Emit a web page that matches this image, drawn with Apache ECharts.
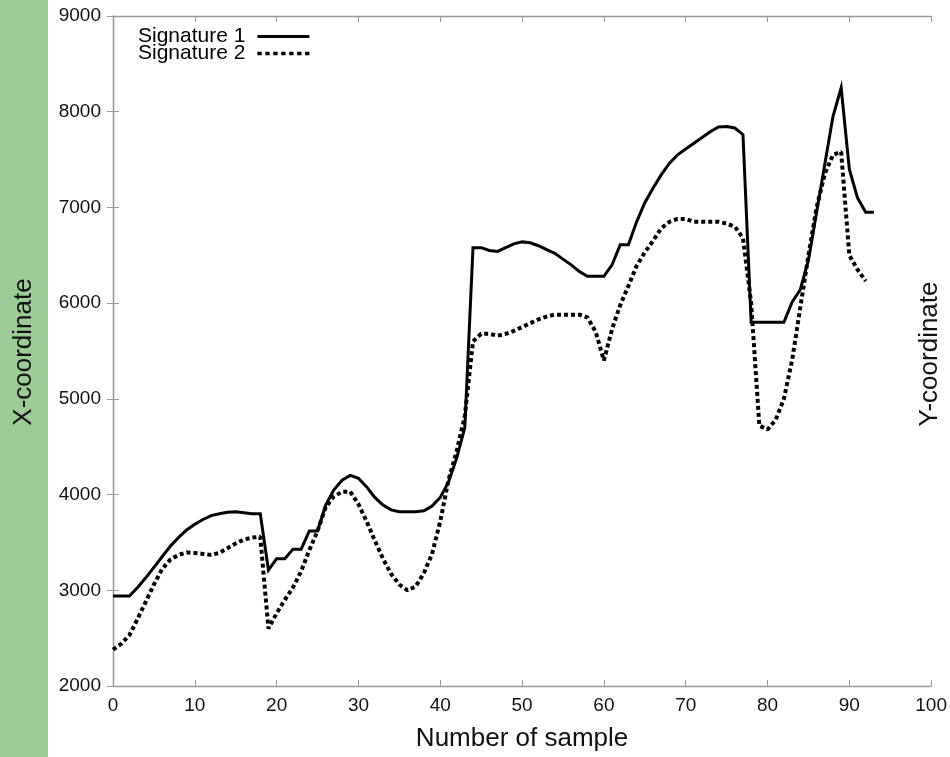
<!DOCTYPE html>
<html>
<head>
<meta charset="utf-8">
<script src="https://cdn.jsdelivr.net/npm/echarts@6/dist/echarts.min.js"></script>
<style>
  html, body { margin: 0; padding: 0; background: #fff; }
  #chart { width: 950px; height: 757px; }
</style>
</head>
<body>
<div id="chart"></div>
<script>
// Signature coordinate traces, one value per sample index
const seriesNames = ['Signature 1', 'Signature 2'];

const signature1 = [
  2940, 2940, 2940, 3030, 3130, 3240, 3350, 3460, 3550, 3630,
  3690, 3740, 3780, 3800, 3815, 3820, 3810, 3800, 3800, 3210,
  3330, 3330, 3430, 3430, 3620, 3620, 3890, 4050, 4150, 4200,
  4170, 4080, 3970, 3890, 3840, 3820, 3820, 3820, 3830, 3880,
  3970, 4130, 4380, 4700, 6580, 6580, 6550, 6540, 6580, 6620,
  6640, 6630, 6600, 6560, 6520, 6460, 6400, 6330, 6280, 6280,
  6280, 6400, 6610, 6610, 6850, 7050, 7200, 7340, 7460, 7550,
  7610, 7670, 7730, 7790, 7840, 7845, 7830, 7760, 5800, 5800,
  5800, 5800, 5800, 6010, 6140, 6450, 6950, 7450, 7950, 8250,
  7400, 7100, 6950, 6950
];

const signature2 = [
  2380, 2440, 2530, 2700, 2880, 3060, 3220, 3320, 3370, 3395,
  3390, 3380, 3370, 3390, 3440, 3490, 3530, 3550, 3560, 2600,
  2760, 2900, 3030, 3200, 3420, 3620, 3870, 3980, 4030, 4030,
  3900, 3720, 3520, 3330, 3170, 3060, 3000, 3040, 3180, 3380,
  3720, 4150, 4450, 4820, 5600, 5680, 5680, 5660, 5680, 5710,
  5750, 5790, 5830, 5860, 5880, 5880, 5880, 5880, 5850, 5700,
  5400, 5730, 5980, 6180, 6390, 6530, 6650, 6780, 6850, 6880,
  6880, 6850, 6850, 6850, 6850, 6830, 6800, 6680, 6000, 4720,
  4680, 4780, 5000, 5400, 5950, 6500, 7000, 7350, 7550, 7580,
  6500, 6350, 6230
];

const xTicks = { min: 0, max: 100, step: 10 };
const yTicks = { min: 2000, max: 9000, step: 1000 };

const toPoints = arr => arr.map((v, i) => [i, v]);

const font = 'Liberation Sans, Arial, Helvetica, sans-serif';
const axisGray = '#9a9a9a';

// legend keys: a solid bar and a row of square dots
const solidKey = 'path://M0,0h52v3h-52z';
let dotted = '';
for (let k = 0; k < 7; k++) dotted += 'M' + (k * 7.3) + ',0h4v3h-4z';
const dottedKey = 'path://' + dotted;

const chart = echarts.init(document.getElementById('chart'), null, { renderer: 'canvas' });

const baseTick = { show: true, inside: true, length: 6, lineStyle: { color: axisGray, width: 1 } };
const baseLine = { show: true, lineStyle: { color: axisGray, width: 1.3 } };

chart.setOption({
  backgroundColor: '#ffffff',
  animation: false,
  grid: { left: 113, right: 18, top: 16, bottom: 70, containLabel: false },
  graphic: [
    {
      type: 'rect', left: 0, top: 0, z: -10,
      shape: { x: 0, y: 0, width: 48, height: 757 },
      style: { fill: '#9dcd97' }
    },
    {
      type: 'text', x: 24, y: 352, rotation: Math.PI / 2,
      style: { text: 'X-coordinate', font: '26px ' + font, fill: '#111', align: 'center', verticalAlign: 'middle' }
    },
    {
      type: 'text', x: 930, y: 354, rotation: Math.PI / 2,
      style: { text: 'Y-coordinate', font: '26px ' + font, fill: '#111', align: 'center', verticalAlign: 'middle' }
    }
  ],
  legend: {
    orient: 'vertical',
    left: 138,
    top: 26,
    align: 'right',
    itemGap: -4,
    itemWidth: 52,
    itemHeight: 3.5,
    padding: 0,
    selectedMode: false,
    itemStyle: { color: '#000', borderWidth: 0 },
    textStyle: { fontFamily: font, fontSize: 21, color: '#000', lineHeight: 17, padding: [0, 7, 0, 0] },
    data: [
      { name: seriesNames[0], icon: solidKey },
      { name: seriesNames[1], icon: dottedKey }
    ]
  },
  xAxis: [
    {
      type: 'value', min: xTicks.min, max: xTicks.max, interval: xTicks.step,
      position: 'bottom',
      name: 'Number of sample', nameLocation: 'middle', nameGap: 40,
      nameTextStyle: { fontFamily: font, fontSize: 26, color: '#111' },
      axisLine: baseLine, axisTick: baseTick,
      axisLabel: { fontFamily: font, fontSize: 19, color: '#111', margin: 10 },
      splitLine: { show: false }
    },
    {
      type: 'value', min: xTicks.min, max: xTicks.max, interval: xTicks.step,
      position: 'top',
      axisLine: baseLine, axisTick: baseTick,
      axisLabel: { show: false }, splitLine: { show: false }
    }
  ],
  yAxis: [
    {
      type: 'value', min: yTicks.min, max: yTicks.max, interval: yTicks.step,
      position: 'left',
      axisLine: baseLine, axisTick: baseTick,
      axisLabel: { fontFamily: font, fontSize: 19, color: '#111', margin: 12, formatter: v => String(v) },
      splitLine: { show: false }
    },
    {
      type: 'value', min: yTicks.min, max: yTicks.max, interval: yTicks.step,
      position: 'right',
      axisLine: baseLine, axisTick: baseTick,
      axisLabel: { show: false }, splitLine: { show: false }
    }
  ],
  series: [
    {
      name: seriesNames[0], type: 'line', xAxisIndex: 0, yAxisIndex: 0,
      data: toPoints(signature1),
      symbol: 'none', showSymbol: false,
      lineStyle: { color: '#000', width: 3, type: 'solid', join: 'miter' },
      itemStyle: { color: '#000' }
    },
    {
      name: seriesNames[1], type: 'line', xAxisIndex: 0, yAxisIndex: 0,
      data: toPoints(signature2),
      symbol: 'none', showSymbol: false,
      lineStyle: { color: '#000', width: 4, type: [4, 3], cap: 'butt' },
      itemStyle: { color: '#000' }
    }
  ]
});
</script>
</body>
</html>
